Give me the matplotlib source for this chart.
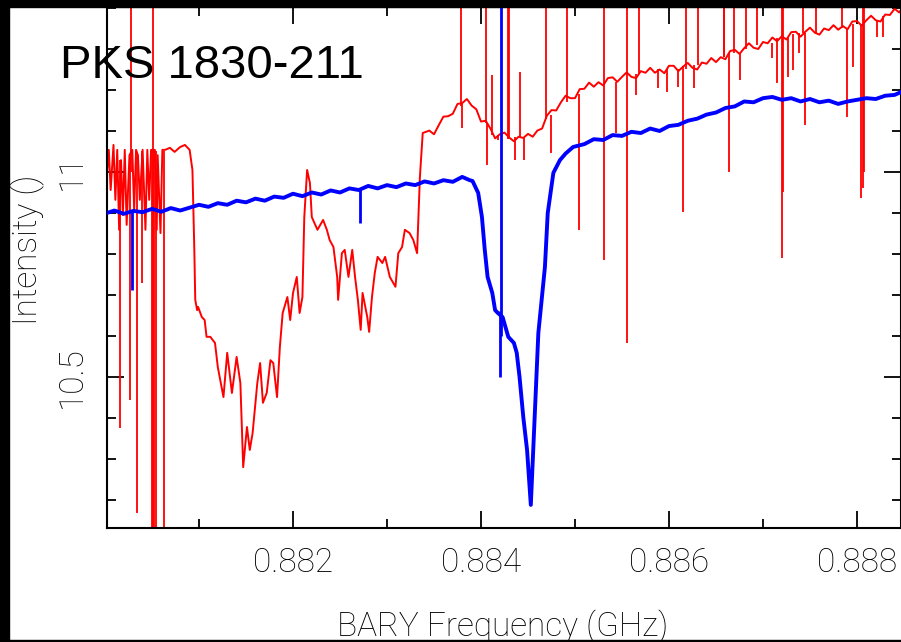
import matplotlib
matplotlib.use("Agg")
import matplotlib.pyplot as plt
from matplotlib.patches import Rectangle
from matplotlib.ticker import MultipleLocator

# red spectrum (GHz, intensity)
red_freq = [0.88002, 0.88004, 0.88006, 0.88009, 0.88011, 0.88013, 0.88015, 0.88017, 0.88019, 0.88021,
            0.88023, 0.88026, 0.88029, 0.88031, 0.88033, 0.88035, 0.88037, 0.88040, 0.88043, 0.88045,
            0.88047, 0.88049, 0.88053, 0.88055, 0.88056, 0.88059, 0.88061, 0.88064, 0.88069, 0.88074,
            0.88080, 0.88085, 0.88090, 0.88093, 0.88095, 0.88096, 0.88098, 0.88099, 0.88103, 0.88106,
            0.88108, 0.88112, 0.88117, 0.88120, 0.88126, 0.88130, 0.88135, 0.88140, 0.88144, 0.88147,
            0.88151, 0.88154, 0.88157, 0.88162, 0.88165, 0.88168, 0.88172, 0.88176, 0.88179, 0.88183,
            0.88186, 0.88189, 0.88194, 0.88197, 0.88200, 0.88204, 0.88207, 0.88210, 0.88212, 0.88215,
            0.88218, 0.88220, 0.88226, 0.88232, 0.88236, 0.88239, 0.88243, 0.88247, 0.88248, 0.88252,
            0.88255, 0.88259, 0.88263, 0.88266, 0.88269, 0.88272, 0.88274, 0.88279, 0.88281, 0.88284,
            0.88287, 0.88290, 0.88295, 0.88298, 0.88303, 0.88309, 0.88312, 0.88316, 0.88319, 0.88324,
            0.88328, 0.88332, 0.88333, 0.88335, 0.88338, 0.88345, 0.88350, 0.88355, 0.88360, 0.88365,
            0.88370, 0.88375, 0.88380, 0.88385, 0.88390, 0.88395, 0.88400, 0.88405, 0.88410, 0.88415,
            0.88420, 0.88425, 0.88430, 0.88435, 0.88440, 0.88445, 0.88450, 0.88455, 0.88460, 0.88465,
            0.88470, 0.88475, 0.88480, 0.88485, 0.88490, 0.88495, 0.88500, 0.88505, 0.88510, 0.88515,
            0.88520, 0.88525, 0.88530, 0.88535, 0.88540, 0.88545, 0.88550, 0.88555, 0.88560, 0.88565,
            0.88570, 0.88575, 0.88580, 0.88585, 0.88590, 0.88595, 0.88600, 0.88605, 0.88610, 0.88615,
            0.88620, 0.88625, 0.88630, 0.88635, 0.88640, 0.88645, 0.88650, 0.88655, 0.88660, 0.88665,
            0.88670, 0.88675, 0.88680, 0.88685, 0.88690, 0.88695, 0.88700, 0.88705, 0.88710, 0.88715,
            0.88720, 0.88725, 0.88730, 0.88735, 0.88740, 0.88745, 0.88750, 0.88755, 0.88760, 0.88765,
            0.88770, 0.88775, 0.88780, 0.88785, 0.88790, 0.88795, 0.88800, 0.88805, 0.88810, 0.88815,
            0.88820, 0.88825, 0.88830, 0.88835, 0.88840, 0.88845, 0.88848]
red_int = [10.993, 11.054, 10.956, 11.066, 10.932, 11.054, 10.859, 11.029, 10.895, 11.054,
           10.871, 11.041, 11.054, 10.907, 11.054, 11.041, 10.932, 11.054, 10.859, 11.054,
           10.932, 11.054, 11.054, 10.859, 11.041, 10.851, 11.054, 11.054, 11.059, 11.049,
           11.061, 11.066, 11.054, 11.005, 10.810, 10.688, 10.663, 10.671, 10.646, 10.639,
           10.598, 10.598, 10.583, 10.524, 10.451, 10.559, 10.461, 10.549, 10.485, 10.280,
           10.378, 10.322, 10.363, 10.485, 10.534, 10.437, 10.461, 10.541, 10.534, 10.451,
           10.573, 10.656, 10.695, 10.639, 10.705, 10.744, 10.656, 10.695, 10.890, 11.005,
           10.973, 10.890, 10.859, 10.883, 10.859, 10.834, 10.817, 10.744, 10.688, 10.802,
           10.810, 10.744, 10.810, 10.744, 10.688, 10.615, 10.705, 10.646, 10.610, 10.695,
           10.754, 10.793, 10.778, 10.793, 10.744, 10.720, 10.802, 10.817, 10.859, 10.851,
           10.834, 10.802, 10.866, 10.988, 11.095, 11.101, 11.092, 11.114, 11.135, 11.136,
           11.142, 11.166, 11.168, 11.178, 11.162, 11.153, 11.123, 11.125, 11.106, 11.082,
           11.092, 11.096, 11.084, 11.075, 11.086, 11.083, 11.093, 11.086, 11.101, 11.106,
           11.137, 11.151, 11.150, 11.170, 11.186, 11.180, 11.180, 11.202, 11.203, 11.218,
           11.208, 11.219, 11.211, 11.229, 11.231, 11.220, 11.232, 11.243, 11.232, 11.229,
           11.246, 11.242, 11.254, 11.242, 11.250, 11.241, 11.259, 11.259, 11.246, 11.257,
           11.266, 11.254, 11.250, 11.267, 11.264, 11.278, 11.268, 11.280, 11.275, 11.295,
           11.298, 11.288, 11.302, 11.314, 11.303, 11.300, 11.317, 11.314, 11.328, 11.319,
           11.331, 11.323, 11.341, 11.342, 11.330, 11.342, 11.352, 11.340, 11.335, 11.350,
           11.346, 11.358, 11.347, 11.356, 11.348, 11.367, 11.368, 11.357, 11.370, 11.381,
           11.370, 11.367, 11.384, 11.383, 11.398, 11.389, 11.400]

# narrow interference spikes on the red spectrum: frequency, low end, high end
red_spike_freq = [0.88016, 0.88027, 0.88028, 0.88034, 0.88039, 0.88050, 0.88051, 0.88052, 0.88054, 0.88063,
                  0.88379, 0.88380, 0.88405, 0.88406, 0.88412, 0.88418, 0.88429, 0.88430, 0.88436, 0.88441,
                  0.88446, 0.88469, 0.88474, 0.88491, 0.88504, 0.88531, 0.88544, 0.88555, 0.88565, 0.88568,
                  0.88588, 0.88598, 0.88610, 0.88615, 0.88618, 0.88627, 0.88631, 0.88658, 0.88659, 0.88664,
                  0.88669, 0.88676, 0.88682, 0.88694, 0.88710, 0.88715, 0.88720, 0.88721, 0.88727, 0.88732,
                  0.88738, 0.88743, 0.88745, 0.88756, 0.88784, 0.88789, 0.88796, 0.88804, 0.88806, 0.88807,
                  0.88821, 0.88828]
red_spike_low = [10.376, 10.444, 11.00, 10.168, 10.729, 9.95, 9.95, 9.95, 9.95, 9.95,
                 11.16, 11.107, 11.12, 11.017, 11.09, 11.078, 11.08, 11.08, 11.029, 11.085,
                 11.029, 11.13, 11.046, 11.17, 10.859, 10.785, 11.095, 10.583, 11.188, 11.24,
                 11.205, 11.195, 11.207, 10.902, 11.25, 11.205, 11.26, 11.28, 11.28, 11.000,
                 11.29, 11.224, 11.30, 11.31, 11.278, 11.217, 10.790, 10.95, 11.232, 11.249,
                 11.290, 11.34, 11.115, 11.34, 11.35, 11.134, 11.256, 10.937, 10.961, 11.00,
                 11.329, 11.329]
red_spike_high = [11.03, 11.04, 11.55, 11.04, 11.05, 11.05, 11.55, 11.05, 11.05, 11.05,
                  11.55, 11.17, 11.55, 11.12, 11.237, 11.09, 11.55, 11.55, 11.085, 11.244,
                  11.085, 11.55, 11.14, 11.55, 11.19, 11.55, 11.22, 11.55, 11.24, 11.55,
                  11.25, 11.25, 11.25, 11.258, 11.55, 11.26, 11.55, 11.55, 11.55, 11.29,
                  11.55, 11.29, 11.55, 11.55, 11.315, 11.326, 11.55, 11.55, 11.33, 11.336,
                  11.34, 11.55, 11.34, 11.55, 11.55, 11.35, 11.36, 11.36, 11.55, 11.55,
                  11.37, 11.38]

# blue spectrum
blue_freq = [0.88002, 0.88010, 0.88020, 0.88030, 0.88040, 0.88050, 0.88060, 0.88070, 0.88080, 0.88090,
             0.88100, 0.88110, 0.88120, 0.88130, 0.88140, 0.88150, 0.88160, 0.88170, 0.88180, 0.88190,
             0.88200, 0.88210, 0.88220, 0.88230, 0.88240, 0.88250, 0.88260, 0.88270, 0.88280, 0.88290,
             0.88300, 0.88310, 0.88320, 0.88330, 0.88340, 0.88350, 0.88360, 0.88370, 0.88380, 0.88388,
             0.88391, 0.88397, 0.88401, 0.88404, 0.88407, 0.88412, 0.88415, 0.88418, 0.88423, 0.88429,
             0.88435, 0.88438, 0.88441, 0.88445, 0.88449, 0.88453, 0.88461, 0.88468, 0.88471, 0.88477,
             0.88484, 0.88490, 0.88498, 0.88510, 0.88520, 0.88530, 0.88540, 0.88550, 0.88560, 0.88570,
             0.88580, 0.88590, 0.88600, 0.88610, 0.88620, 0.88630, 0.88640, 0.88650, 0.88660, 0.88670,
             0.88680, 0.88690, 0.88700, 0.88710, 0.88720, 0.88730, 0.88740, 0.88750, 0.88760, 0.88770,
             0.88780, 0.88790, 0.88800, 0.88810, 0.88820, 0.88830, 0.88840, 0.88848]
blue_int = [10.900, 10.906, 10.898, 10.905, 10.902, 10.910, 10.903, 10.912, 10.906, 10.913,
            10.920, 10.915, 10.924, 10.920, 10.930, 10.926, 10.935, 10.930, 10.940, 10.937,
            10.947, 10.941, 10.950, 10.945, 10.955, 10.950, 10.960, 10.956, 10.966, 10.960,
            10.968, 10.963, 10.972, 10.968, 10.977, 10.972, 10.980, 10.976, 10.988, 10.980,
            10.978, 10.949, 10.890, 10.810, 10.744, 10.705, 10.663, 10.656, 10.646, 10.598,
            10.583, 10.559, 10.500, 10.402, 10.322, 10.188, 10.607, 10.768, 10.900, 10.998,
            11.029, 11.045, 11.061, 11.068, 11.080, 11.078, 11.090, 11.088, 11.098, 11.095,
            11.106, 11.100, 11.112, 11.115, 11.125, 11.130, 11.140, 11.145, 11.156, 11.160,
            11.172, 11.170, 11.180, 11.183, 11.176, 11.180, 11.172, 11.178, 11.170, 11.174,
            11.166, 11.172, 11.176, 11.180, 11.178, 11.186, 11.188, 11.196]

blue_spike_freq = [0.88029, 0.88271, 0.88420, 0.88421]
blue_spike_low = [10.712, 10.876, 10.500, 10.600]
blue_spike_high = [10.902, 10.960, 10.660, 11.550]

W, H = 901, 642
fig = plt.figure(figsize=(W / 100, H / 100), dpi=100)
ax = fig.add_axes([107 / W, 1 - 528 / H, (900.5 - 107) / W, (528 - 7) / H])

ax.plot(red_freq, red_int, color="#ff0000", lw=1.4, zorder=2)
ax.vlines(red_spike_freq, red_spike_low, red_spike_high, color="#ff0000", lw=1.3, zorder=2)
ax.plot(blue_freq, blue_int, color="#0000ff", lw=2.8, zorder=3)
ax.vlines(blue_spike_freq, blue_spike_low, blue_spike_high, color="#0000ff", lw=2.0, zorder=3)

ax.set_xlim(0.880021, 0.888463)
ax.set_ylim(10.1317, 11.4024)

ax.xaxis.set_major_locator(MultipleLocator(0.002))
ax.xaxis.set_minor_locator(MultipleLocator(0.001))
ax.yaxis.set_major_locator(MultipleLocator(0.5))
ax.yaxis.set_minor_locator(MultipleLocator(0.1))
ax.xaxis.set_major_formatter(plt.FuncFormatter(lambda v, p: "%.3f" % v))
ax.yaxis.set_major_formatter(plt.FuncFormatter(lambda v, p: "%g" % v))

lbl_font = dict(family="Roboto", weight="light", size=24)
ax.tick_params(which="both", direction="in", top=True, right=True, width=1.3, color="black")
ax.tick_params(which="major", length=12.5, pad=14, labelsize=24)
ax.tick_params(which="minor", length=6.5)
for lab in ax.get_xticklabels() + ax.get_yticklabels():
    lab.set_family(lbl_font["family"])
    lab.set_fontweight(lbl_font["weight"])
    lab.set_color("black")
for lab in ax.get_yticklabels():
    lab.set_rotation(90)
    lab.set_va("center")
for s in ax.spines.values():
    s.set_linewidth(1.5)

fig.text(28 / W, 1 - 250 / H, "Intensity ()", rotation=90, ha="center", va="center", **lbl_font)
fig.text(503 / W, 1 - 636 / H, "BARY Frequency (GHz)", ha="center", va="baseline", **lbl_font)
fig.text(60 / W, 1 - 78 / H, "PKS 1830-211", ha="left", va="baseline",
         fontsize=34, family="Liberation Sans")

# black window frame
fig.patches.append(Rectangle((0, 0), 8.5 / W, 1, transform=fig.transFigure, color="black", zorder=10))
fig.patches.append(Rectangle((0, 1 - 7 / H), 1, 7 / H, transform=fig.transFigure, color="black", zorder=10))
fig.patches.append(Rectangle((0, 0), 1, 2 / H, transform=fig.transFigure, color="black", zorder=10))

fig.savefig("out.png", dpi=100)
